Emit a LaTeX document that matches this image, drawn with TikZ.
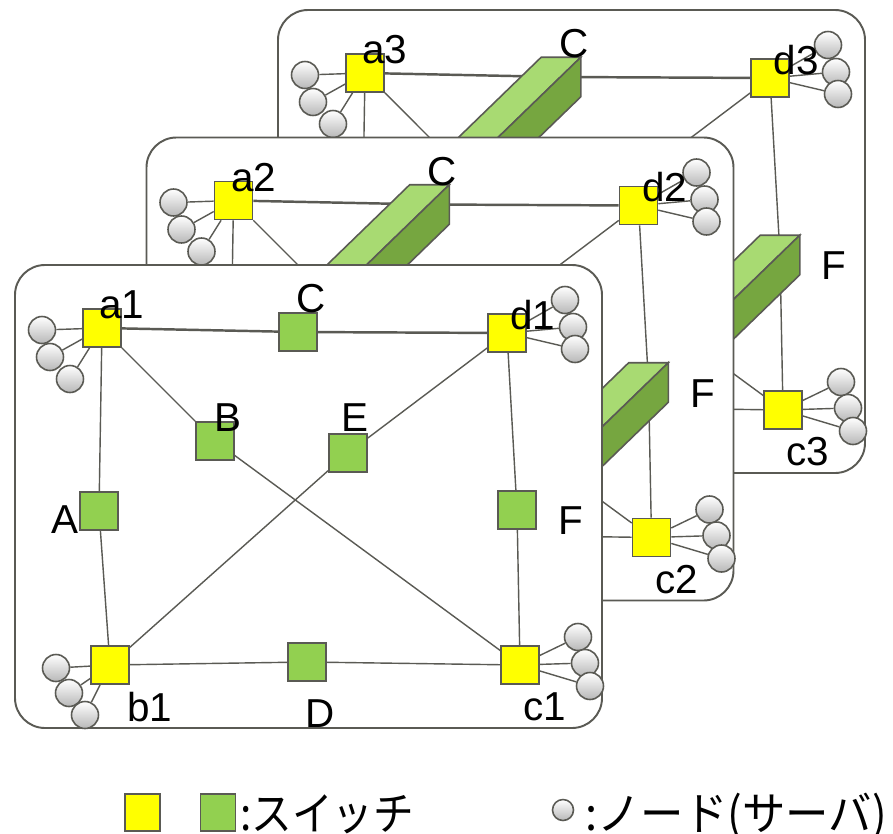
\documentclass[tikz,border=0pt]{standalone}
\usepackage{fontspec}
\usepackage{graphicx}
\setmainfont{Liberation Sans}
\newfontfamily\jpfont{Noto Sans CJK JP}
\usetikzlibrary{calc}

\definecolor{linegray}{RGB}{90,90,84}
\definecolor{swyellow}{RGB}{255,255,0}
\definecolor{swgreen}{RGB}{146,208,80}
\definecolor{barlight}{RGB}{168,218,114}
\definecolor{bardark}{RGB}{118,166,64}

\begin{document}
\begin{tikzpicture}[
    panel/.style={draw=linegray, fill=white, rounded corners=0.6cm, line width=1.1pt},
    yswitch/.style={rectangle, draw=linegray, fill=swyellow, minimum size=0.76cm, inner sep=0pt, line width=0.9pt},
    gswitch/.style={rectangle, draw=linegray, fill=swgreen, minimum size=0.76cm, inner sep=0pt, line width=0.9pt},
    server/.style={circle, draw=linegray, top color=white, bottom color=black!28, minimum size=0.54cm, inner sep=0pt, line width=0.9pt},
    link/.style={linegray, line width=0.8pt},
    trunk/.style={linegray, line width=1.4pt},
    barlit/.style={draw=linegray, fill=barlight, line width=0.9pt},
    barshade/.style={draw=linegray, fill=bardark, line width=0.9pt},
    lbl/.style={font=\fontsize{23}{26}\selectfont, inner sep=0pt},
    legend/.style={font=\jpfont\fontsize{26}{30}\selectfont, inner sep=0pt, anchor=base west}
]
\useasboundingbox (0,0) rectangle (17.86,-16.68);

% Layers 3, 2, 1 drawn back to front
\foreach \k in {3,2,1} {
  \begin{scope}[shift={({(\k-1)*2.63},{(\k-1)*2.55})}]
    \draw[panel] (0.3,-5.3) rectangle (12.04,-14.56);

    % Switches
    \node[yswitch] (a\k) at (2.04,-6.56) {};
    \node[yswitch] (d\k) at (10.14,-6.66) {};
    \node[yswitch] (b\k) at (2.2,-13.3) {};
    \node[yswitch] (c\k) at (10.4,-13.3) {};
    \node[gswitch] (A\k) at (1.98,-10.22) {};
    \node[gswitch] (B\k) at (4.3,-8.82) {};
    \node[gswitch] (C\k) at (5.96,-6.64) {};
    \node[gswitch] (D\k) at (6.14,-13.24) {};
    \node[gswitch] (E\k) at (6.96,-9.06) {};
    \node[gswitch] (F\k) at (10.34,-10.2) {};

    % Links
    \draw[trunk] (a\k) -- (C\k) -- (d\k);
    \draw[link] (a\k) -- (A\k) -- (b\k);
    \draw[link] (a\k) -- (B\k) -- (c\k);
    \draw[link] (b\k) -- (E\k) -- (d\k);
    \draw[link] (d\k) -- (F\k) -- (c\k);
    \draw[link] (b\k) -- (D\k) -- (c\k);

    % Servers
    \foreach \sw/\x/\y [count=\i] in {a/0.84/-6.6, a/1.0/-7.14, a/1.4/-7.58,
        d/11.3/-6.0, d/11.46/-6.54, d/11.5/-6.98,
        c/11.56/-12.74, c/11.7/-13.26, c/11.8/-13.72,
        b/1.12/-13.36, b/1.38/-13.86, b/1.7/-14.3} {
      \node[server] (s\k-\i) at (\x,\y) {};
      \draw[link] (\sw\k) -- (s\k-\i);
    }
  \end{scope}

  % Bars joining C and F to the layer in front
  \ifnum\k>1
    \foreach \g in {C,F} {
      \draw[barlit] (\g\k.north west) -- (\g\k.north east)
        -- ($(\g\k.north east)-(2.63,2.55)$) -- ($(\g\k.north west)-(2.63,2.55)$) -- cycle;
      \draw[barshade] (\g\k.north east) -- (\g\k.south east)
        -- ($(\g\k.south east)-(2.63,2.55)$) -- ($(\g\k.north east)-(2.63,2.55)$) -- cycle;
    }
  \fi

  % Labels
  \begin{scope}[shift={({(\k-1)*2.63},{(\k-1)*2.55})}]
    \node[lbl] (la\k) at (2.44,-6.1) {a\k};
    \node[lbl] (ld\k) at (10.66,-6.3) {d\k};
    \node[lbl] (lb\k) at (3.0,-14.14) {b\k};
    \node[lbl] (lc\k) at (10.9,-14.14) {c\k};
    \node[lbl] (lA\k) at (1.3,-10.4) {A};
    \node[lbl] (lB\k) at (4.56,-8.36) {B};
    \node[lbl] (lC\k) at (6.22,-5.98) {C};
    \node[lbl] (lD\k) at (6.4,-14.28) {D};
    \node[lbl] (lE\k) at (7.1,-8.36) {E};
    \node[lbl] (lF\k) at (11.42,-10.42) {F};
  \end{scope}
}

% Legend
\node[yswitch, minimum width=0.7cm, minimum height=0.74cm] (legY) at (2.85,-16.25) {};
\node[gswitch, minimum width=0.7cm, minimum height=0.74cm] (legG) at (4.36,-16.25) {};
\node[legend] (legS) at (4.8,-16.6) {\scalebox{0.89}[1]{:スイッチ}};
\node[server, minimum size=0.42cm] (legN) at (11.26,-16.2) {};
\node[legend] (legT) at (11.7,-16.6) {\scalebox{0.95}[1]{:ノード(サーバ)}};

\end{tikzpicture}
\end{document}
